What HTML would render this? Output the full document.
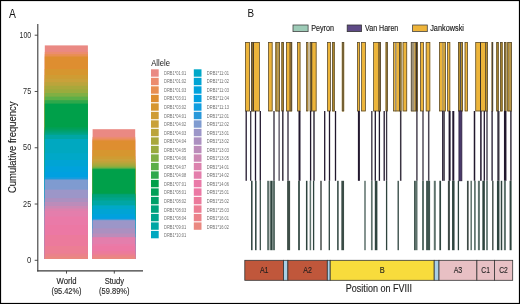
<!DOCTYPE html>
<html><head><meta charset="utf-8"><style>
html,body{margin:0;padding:0;background:#fff;}
svg{display:block;font-family:"Liberation Sans", sans-serif;will-change:transform;}
</style></head><body>
<svg width="520" height="304" viewBox="0 0 520 304">
<rect x="0" y="0" width="520" height="304" fill="#fff"/>
<rect x="44.8" y="45.40" width="43.10" height="213.60" fill="#EA8983"/>
<rect x="44.8" y="51.90" width="43.10" height="207.10" fill="#EC8C6E"/>
<rect x="44.8" y="54.20" width="43.10" height="204.80" fill="#E88F52"/>
<rect x="44.8" y="56.50" width="43.10" height="202.50" fill="#DE8E30"/>
<rect x="44.8" y="69.00" width="43.10" height="190.00" fill="#D6962F"/>
<rect x="44.8" y="75.00" width="43.10" height="184.00" fill="#CF9C33"/>
<rect x="44.8" y="78.60" width="43.10" height="180.40" fill="#C9A13A"/>
<rect x="44.8" y="82.20" width="43.10" height="176.80" fill="#BBA43B"/>
<rect x="44.8" y="85.80" width="43.10" height="173.20" fill="#A9A83B"/>
<rect x="44.8" y="89.40" width="43.10" height="169.60" fill="#9AAB3D"/>
<rect x="44.8" y="93.00" width="43.10" height="166.00" fill="#80AF43"/>
<rect x="44.8" y="96.60" width="43.10" height="162.40" fill="#5CAF48"/>
<rect x="44.8" y="100.20" width="43.10" height="158.80" fill="#2EA84B"/>
<rect x="44.8" y="103.60" width="43.10" height="155.40" fill="#00A04A"/>
<rect x="44.8" y="127.30" width="43.10" height="131.70" fill="#00A058"/>
<rect x="44.8" y="129.50" width="43.10" height="129.50" fill="#00A068"/>
<rect x="44.8" y="131.50" width="43.10" height="127.50" fill="#00A27A"/>
<rect x="44.8" y="133.50" width="43.10" height="125.50" fill="#00A48C"/>
<rect x="44.8" y="135.00" width="43.10" height="124.00" fill="#00A6A4"/>
<rect x="44.8" y="139.00" width="43.10" height="120.00" fill="#00A8C0"/>
<rect x="44.8" y="153.20" width="43.10" height="105.80" fill="#00A8C8"/>
<rect x="44.8" y="160.00" width="43.10" height="99.00" fill="#00A4D4"/>
<rect x="44.8" y="166.40" width="43.10" height="92.60" fill="#00A2DC"/>
<rect x="44.8" y="172.00" width="43.10" height="87.00" fill="#00A0E0"/>
<rect x="44.8" y="177.00" width="43.10" height="82.00" fill="#109EE0"/>
<rect x="44.8" y="178.50" width="43.10" height="80.50" fill="#2898DA"/>
<rect x="44.8" y="179.50" width="43.10" height="79.50" fill="#7F9BD0"/>
<rect x="44.8" y="189.60" width="43.10" height="69.40" fill="#9C96C8"/>
<rect x="44.8" y="198.20" width="43.10" height="60.80" fill="#AC90C0"/>
<rect x="44.8" y="202.00" width="43.10" height="57.00" fill="#BC8CBA"/>
<rect x="44.8" y="206.00" width="43.10" height="53.00" fill="#CC88B4"/>
<rect x="44.8" y="208.50" width="43.10" height="50.50" fill="#DC82AE"/>
<rect x="44.8" y="210.70" width="43.10" height="48.30" fill="#E47EAC"/>
<rect x="44.8" y="216.60" width="43.10" height="42.40" fill="#EA7AA8"/>
<rect x="44.8" y="225.00" width="43.10" height="34.00" fill="#EC78A4"/>
<rect x="44.8" y="235.00" width="43.10" height="24.00" fill="#EC7A9C"/>
<rect x="44.8" y="246.00" width="43.10" height="13.00" fill="#EC7E94"/>
<rect x="44.8" y="253.60" width="43.10" height="5.40" fill="#EB828A"/>
<rect x="44.8" y="256.50" width="43.10" height="2.50" fill="#EA8880"/>
<rect x="92.6" y="129.20" width="42.60" height="129.80" fill="#EA8983"/>
<rect x="92.6" y="136.90" width="42.60" height="122.10" fill="#EC8C6E"/>
<rect x="92.6" y="138.70" width="42.60" height="120.30" fill="#E88F52"/>
<rect x="92.6" y="140.40" width="42.60" height="118.60" fill="#DE8E30"/>
<rect x="92.6" y="150.00" width="42.60" height="109.00" fill="#D6962F"/>
<rect x="92.6" y="156.30" width="42.60" height="102.70" fill="#CF9C33"/>
<rect x="92.6" y="159.00" width="42.60" height="100.00" fill="#C9A13A"/>
<rect x="92.6" y="161.60" width="42.60" height="97.40" fill="#BBA43B"/>
<rect x="92.6" y="163.50" width="42.60" height="95.50" fill="#A9A83B"/>
<rect x="92.6" y="165.40" width="42.60" height="93.60" fill="#9AAB3D"/>
<rect x="92.6" y="166.60" width="42.60" height="92.40" fill="#80AF43"/>
<rect x="92.6" y="167.70" width="42.60" height="91.30" fill="#5CAF48"/>
<rect x="92.6" y="168.50" width="42.60" height="90.50" fill="#2EA84B"/>
<rect x="92.6" y="169.20" width="42.60" height="89.80" fill="#00A04A"/>
<rect x="92.6" y="193.30" width="42.60" height="65.70" fill="#00A058"/>
<rect x="92.6" y="193.90" width="42.60" height="65.10" fill="#00A068"/>
<rect x="92.6" y="194.50" width="42.60" height="64.50" fill="#00A27A"/>
<rect x="92.6" y="197.50" width="42.60" height="61.50" fill="#00A48C"/>
<rect x="92.6" y="200.50" width="42.60" height="58.50" fill="#00A6A4"/>
<rect x="92.6" y="205.20" width="42.60" height="53.80" fill="#00A8C0"/>
<rect x="92.6" y="206.00" width="42.60" height="53.00" fill="#00A8C8"/>
<rect x="92.6" y="209.00" width="42.60" height="50.00" fill="#00A4D4"/>
<rect x="92.6" y="214.00" width="42.60" height="45.00" fill="#00A2DC"/>
<rect x="92.6" y="216.50" width="42.60" height="42.50" fill="#00A0E0"/>
<rect x="92.6" y="218.50" width="42.60" height="40.50" fill="#109EE0"/>
<rect x="92.6" y="219.10" width="42.60" height="39.90" fill="#2898DA"/>
<rect x="92.6" y="219.70" width="42.60" height="39.30" fill="#7F9BD0"/>
<rect x="92.6" y="220.60" width="42.60" height="38.40" fill="#9C96C8"/>
<rect x="92.6" y="228.40" width="42.60" height="30.60" fill="#AC90C0"/>
<rect x="92.6" y="233.50" width="42.60" height="25.50" fill="#BC8CBA"/>
<rect x="92.6" y="237.00" width="42.60" height="22.00" fill="#CC88B4"/>
<rect x="92.6" y="237.30" width="42.60" height="21.70" fill="#DC82AE"/>
<rect x="92.6" y="237.60" width="42.60" height="21.40" fill="#E47EAC"/>
<rect x="92.6" y="244.00" width="42.60" height="15.00" fill="#EA7AA8"/>
<rect x="92.6" y="246.00" width="42.60" height="13.00" fill="#EC78A4"/>
<rect x="92.6" y="251.00" width="42.60" height="8.00" fill="#EC7A9C"/>
<rect x="92.6" y="253.50" width="42.60" height="5.50" fill="#EC7E94"/>
<rect x="92.6" y="254.90" width="42.60" height="4.10" fill="#EB828A"/>
<rect x="92.6" y="256.80" width="42.60" height="2.20" fill="#EA8880"/>
<line x1="37.8" y1="24" x2="37.8" y2="271.4" stroke="#3a3a3a" stroke-width="1.1"/>
<line x1="37.25" y1="270.9" x2="143" y2="270.9" stroke="#3a3a3a" stroke-width="1.1"/>
<line x1="34.7" y1="260.30" x2="37.8" y2="260.30" stroke="#3a3a3a" stroke-width="0.9"/>
<text x="31.2" y="262.80" text-anchor="end" font-size="8.4" fill="#2a2a2a" textLength="4.3" lengthAdjust="spacingAndGlyphs">0</text>
<line x1="34.7" y1="204.03" x2="37.8" y2="204.03" stroke="#3a3a3a" stroke-width="0.9"/>
<text x="31.2" y="206.53" text-anchor="end" font-size="8.4" fill="#2a2a2a" textLength="8.1" lengthAdjust="spacingAndGlyphs">25</text>
<line x1="34.7" y1="147.75" x2="37.8" y2="147.75" stroke="#3a3a3a" stroke-width="0.9"/>
<text x="31.2" y="150.25" text-anchor="end" font-size="8.4" fill="#2a2a2a" textLength="8.1" lengthAdjust="spacingAndGlyphs">50</text>
<line x1="34.7" y1="91.48" x2="37.8" y2="91.48" stroke="#3a3a3a" stroke-width="0.9"/>
<text x="31.2" y="93.98" text-anchor="end" font-size="8.4" fill="#2a2a2a" textLength="8.1" lengthAdjust="spacingAndGlyphs">75</text>
<line x1="34.7" y1="35.20" x2="37.8" y2="35.20" stroke="#3a3a3a" stroke-width="0.9"/>
<text x="31.2" y="37.70" text-anchor="end" font-size="8.4" fill="#2a2a2a" textLength="11.6" lengthAdjust="spacingAndGlyphs">100</text>
<line x1="66.5" y1="270.9" x2="66.5" y2="273.6" stroke="#3a3a3a" stroke-width="0.9"/>
<line x1="114.3" y1="270.9" x2="114.3" y2="273.6" stroke="#3a3a3a" stroke-width="0.9"/>
<text x="66.5" y="284.2" text-anchor="middle" font-size="8.2" fill="#262626" stroke="#262626" stroke-width="0.12" textLength="20" lengthAdjust="spacingAndGlyphs">World</text>
<text x="66.5" y="293.9" text-anchor="middle" font-size="8.3" fill="#262626" stroke="#262626" stroke-width="0.12" textLength="30" lengthAdjust="spacingAndGlyphs">(95.42%)</text>
<text x="114.4" y="284.2" text-anchor="middle" font-size="8.2" fill="#262626" stroke="#262626" stroke-width="0.12" textLength="19.5" lengthAdjust="spacingAndGlyphs">Study</text>
<text x="114.3" y="293.9" text-anchor="middle" font-size="8.3" fill="#262626" stroke="#262626" stroke-width="0.12" textLength="30.4" lengthAdjust="spacingAndGlyphs">(59.89%)</text>
<text transform="translate(16.1,147.3) rotate(-90)" text-anchor="middle" font-size="10" fill="#1a1a1a" stroke="#1a1a1a" stroke-width="0.1" textLength="91.4" lengthAdjust="spacingAndGlyphs">Cumulative frequency</text>
<text x="9" y="17.5" font-size="12" fill="#111" textLength="6.9" lengthAdjust="spacingAndGlyphs">A</text>
<text x="151.2" y="65.7" font-size="9.2" fill="#111" textLength="18.7" lengthAdjust="spacingAndGlyphs">Allele</text>
<rect x="151.0" y="69.30" width="7.7" height="7.4" fill="#EA8983"/>
<text x="164.0" y="74.80" font-size="5" fill="#707070" textLength="22.2" lengthAdjust="spacingAndGlyphs">DRB1*01:01</text>
<rect x="151.0" y="77.80" width="7.7" height="7.4" fill="#EC8C6E"/>
<text x="164.0" y="83.34" font-size="5" fill="#707070" textLength="22.2" lengthAdjust="spacingAndGlyphs">DRB1*01:02</text>
<rect x="151.0" y="86.31" width="7.7" height="7.4" fill="#E88F52"/>
<text x="164.0" y="91.89" font-size="5" fill="#707070" textLength="22.2" lengthAdjust="spacingAndGlyphs">DRB1*01:03</text>
<rect x="151.0" y="94.81" width="7.7" height="7.4" fill="#DE8E30"/>
<text x="164.0" y="100.44" font-size="5" fill="#707070" textLength="22.2" lengthAdjust="spacingAndGlyphs">DRB1*03:01</text>
<rect x="151.0" y="103.32" width="7.7" height="7.4" fill="#D6962F"/>
<text x="164.0" y="108.98" font-size="5" fill="#707070" textLength="22.2" lengthAdjust="spacingAndGlyphs">DRB1*03:02</text>
<rect x="151.0" y="111.83" width="7.7" height="7.4" fill="#CF9C33"/>
<text x="164.0" y="117.53" font-size="5" fill="#707070" textLength="22.2" lengthAdjust="spacingAndGlyphs">DRB1*04:01</text>
<rect x="151.0" y="120.33" width="7.7" height="7.4" fill="#C9A13A"/>
<text x="164.0" y="126.07" font-size="5" fill="#707070" textLength="22.2" lengthAdjust="spacingAndGlyphs">DRB1*04:02</text>
<rect x="151.0" y="128.84" width="7.7" height="7.4" fill="#BBA43B"/>
<text x="164.0" y="134.62" font-size="5" fill="#707070" textLength="22.2" lengthAdjust="spacingAndGlyphs">DRB1*04:03</text>
<rect x="151.0" y="137.34" width="7.7" height="7.4" fill="#A9A83B"/>
<text x="164.0" y="143.16" font-size="5" fill="#707070" textLength="22.2" lengthAdjust="spacingAndGlyphs">DRB1*04:04</text>
<rect x="151.0" y="145.84" width="7.7" height="7.4" fill="#9AAB3D"/>
<text x="164.0" y="151.71" font-size="5" fill="#707070" textLength="22.2" lengthAdjust="spacingAndGlyphs">DRB1*04:05</text>
<rect x="151.0" y="154.35" width="7.7" height="7.4" fill="#80AF43"/>
<text x="164.0" y="160.25" font-size="5" fill="#707070" textLength="22.2" lengthAdjust="spacingAndGlyphs">DRB1*04:06</text>
<rect x="151.0" y="162.86" width="7.7" height="7.4" fill="#5CAF48"/>
<text x="164.0" y="168.80" font-size="5" fill="#707070" textLength="22.2" lengthAdjust="spacingAndGlyphs">DRB1*04:07</text>
<rect x="151.0" y="171.36" width="7.7" height="7.4" fill="#2EA84B"/>
<text x="164.0" y="177.34" font-size="5" fill="#707070" textLength="22.2" lengthAdjust="spacingAndGlyphs">DRB1*04:08</text>
<rect x="151.0" y="179.87" width="7.7" height="7.4" fill="#00A04A"/>
<text x="164.0" y="185.89" font-size="5" fill="#707070" textLength="22.2" lengthAdjust="spacingAndGlyphs">DRB1*07:01</text>
<rect x="151.0" y="188.37" width="7.7" height="7.4" fill="#00A058"/>
<text x="164.0" y="194.43" font-size="5" fill="#707070" textLength="22.2" lengthAdjust="spacingAndGlyphs">DRB1*08:01</text>
<rect x="151.0" y="196.88" width="7.7" height="7.4" fill="#00A068"/>
<text x="164.0" y="202.97" font-size="5" fill="#707070" textLength="22.2" lengthAdjust="spacingAndGlyphs">DRB1*08:02</text>
<rect x="151.0" y="205.38" width="7.7" height="7.4" fill="#00A27A"/>
<text x="164.0" y="211.52" font-size="5" fill="#707070" textLength="22.2" lengthAdjust="spacingAndGlyphs">DRB1*08:03</text>
<rect x="151.0" y="213.88" width="7.7" height="7.4" fill="#00A48C"/>
<text x="164.0" y="220.06" font-size="5" fill="#707070" textLength="22.2" lengthAdjust="spacingAndGlyphs">DRB1*08:04</text>
<rect x="151.0" y="222.39" width="7.7" height="7.4" fill="#00A6A4"/>
<text x="164.0" y="228.61" font-size="5" fill="#707070" textLength="22.2" lengthAdjust="spacingAndGlyphs">DRB1*09:01</text>
<rect x="151.0" y="230.90" width="7.7" height="7.4" fill="#00A8C0"/>
<text x="164.0" y="237.16" font-size="5" fill="#707070" textLength="22.2" lengthAdjust="spacingAndGlyphs">DRB1*10:01</text>
<rect x="193.8" y="69.30" width="7.7" height="7.4" fill="#00A8C8"/>
<text x="206.8" y="74.80" font-size="5" fill="#707070" textLength="22.2" lengthAdjust="spacingAndGlyphs">DRB1*11:01</text>
<rect x="193.8" y="77.80" width="7.7" height="7.4" fill="#00A4D4"/>
<text x="206.8" y="83.34" font-size="5" fill="#707070" textLength="22.2" lengthAdjust="spacingAndGlyphs">DRB1*11:02</text>
<rect x="193.8" y="86.31" width="7.7" height="7.4" fill="#00A2DC"/>
<text x="206.8" y="91.89" font-size="5" fill="#707070" textLength="22.2" lengthAdjust="spacingAndGlyphs">DRB1*11:03</text>
<rect x="193.8" y="94.81" width="7.7" height="7.4" fill="#00A0E0"/>
<text x="206.8" y="100.44" font-size="5" fill="#707070" textLength="22.2" lengthAdjust="spacingAndGlyphs">DRB1*11:04</text>
<rect x="193.8" y="103.32" width="7.7" height="7.4" fill="#109EE0"/>
<text x="206.8" y="108.98" font-size="5" fill="#707070" textLength="22.2" lengthAdjust="spacingAndGlyphs">DRB1*11:13</text>
<rect x="193.8" y="111.83" width="7.7" height="7.4" fill="#2898DA"/>
<text x="206.8" y="117.53" font-size="5" fill="#707070" textLength="22.2" lengthAdjust="spacingAndGlyphs">DRB1*12:01</text>
<rect x="193.8" y="120.33" width="7.7" height="7.4" fill="#7F9BD0"/>
<text x="206.8" y="126.07" font-size="5" fill="#707070" textLength="22.2" lengthAdjust="spacingAndGlyphs">DRB1*12:02</text>
<rect x="193.8" y="128.84" width="7.7" height="7.4" fill="#9C96C8"/>
<text x="206.8" y="134.62" font-size="5" fill="#707070" textLength="22.2" lengthAdjust="spacingAndGlyphs">DRB1*13:01</text>
<rect x="193.8" y="137.34" width="7.7" height="7.4" fill="#AC90C0"/>
<text x="206.8" y="143.16" font-size="5" fill="#707070" textLength="22.2" lengthAdjust="spacingAndGlyphs">DRB1*13:02</text>
<rect x="193.8" y="145.84" width="7.7" height="7.4" fill="#BC8CBA"/>
<text x="206.8" y="151.71" font-size="5" fill="#707070" textLength="22.2" lengthAdjust="spacingAndGlyphs">DRB1*13:03</text>
<rect x="193.8" y="154.35" width="7.7" height="7.4" fill="#CC88B4"/>
<text x="206.8" y="160.25" font-size="5" fill="#707070" textLength="22.2" lengthAdjust="spacingAndGlyphs">DRB1*13:05</text>
<rect x="193.8" y="162.86" width="7.7" height="7.4" fill="#DC82AE"/>
<text x="206.8" y="168.80" font-size="5" fill="#707070" textLength="22.2" lengthAdjust="spacingAndGlyphs">DRB1*14:01</text>
<rect x="193.8" y="171.36" width="7.7" height="7.4" fill="#E47EAC"/>
<text x="206.8" y="177.34" font-size="5" fill="#707070" textLength="22.2" lengthAdjust="spacingAndGlyphs">DRB1*14:02</text>
<rect x="193.8" y="179.87" width="7.7" height="7.4" fill="#EA7AA8"/>
<text x="206.8" y="185.89" font-size="5" fill="#707070" textLength="22.2" lengthAdjust="spacingAndGlyphs">DRB1*14:06</text>
<rect x="193.8" y="188.37" width="7.7" height="7.4" fill="#EC78A4"/>
<text x="206.8" y="194.43" font-size="5" fill="#707070" textLength="22.2" lengthAdjust="spacingAndGlyphs">DRB1*15:01</text>
<rect x="193.8" y="196.88" width="7.7" height="7.4" fill="#EC7A9C"/>
<text x="206.8" y="202.97" font-size="5" fill="#707070" textLength="22.2" lengthAdjust="spacingAndGlyphs">DRB1*15:02</text>
<rect x="193.8" y="205.38" width="7.7" height="7.4" fill="#EC7E94"/>
<text x="206.8" y="211.52" font-size="5" fill="#707070" textLength="22.2" lengthAdjust="spacingAndGlyphs">DRB1*15:03</text>
<rect x="193.8" y="213.88" width="7.7" height="7.4" fill="#EB828A"/>
<text x="206.8" y="220.06" font-size="5" fill="#707070" textLength="22.2" lengthAdjust="spacingAndGlyphs">DRB1*16:01</text>
<rect x="193.8" y="222.39" width="7.7" height="7.4" fill="#EA8880"/>
<text x="206.8" y="228.61" font-size="5" fill="#707070" textLength="22.2" lengthAdjust="spacingAndGlyphs">DRB1*16:02</text>
<text x="247.6" y="17.4" font-size="11" fill="#111" textLength="6.6" lengthAdjust="spacingAndGlyphs">B</text>
<rect x="293" y="25" width="15.1" height="6.6" fill="#9DCBB7" stroke="#444" stroke-width="0.8"/>
<text x="311.2" y="30.7" font-size="8.5" fill="#1a1a1a" stroke="#1a1a1a" stroke-width="0.15" textLength="22.8" lengthAdjust="spacingAndGlyphs">Peyron</text>
<rect x="347.2" y="25" width="14.3" height="6.6" fill="#5E4A86" stroke="#333" stroke-width="0.8"/>
<text x="365.1" y="30.7" font-size="8.5" fill="#1a1a1a" stroke="#1a1a1a" stroke-width="0.15" textLength="33.2" lengthAdjust="spacingAndGlyphs">Van Haren</text>
<rect x="412.6" y="25" width="14.7" height="6.6" fill="#EEB43A" stroke="#444" stroke-width="0.8"/>
<text x="430.2" y="30.7" font-size="8.5" fill="#1a1a1a" stroke="#1a1a1a" stroke-width="0.15" textLength="33.8" lengthAdjust="spacingAndGlyphs">Jankowski</text>
<rect x="245.1" y="42.0" width="4.80" height="69.30" fill="#EDB53B"/>
<rect x="245.45" y="42.35" width="4.10" height="68.60" fill="none" stroke="#4a4438" stroke-width="0.7"/>
<rect x="251.0" y="42.0" width="8.70" height="69.30" fill="#EDB53B"/>
<rect x="251.0" y="42.0" width="2.00" height="69.30" fill="#8C6C2E"/>
<rect x="253.0" y="42.0" width="0.90" height="69.30" fill="#3A3228"/>
<rect x="251.35" y="42.35" width="8.00" height="68.60" fill="none" stroke="#4a4438" stroke-width="0.7"/>
<rect x="268.2" y="42.0" width="4.30" height="69.30" fill="#EDB53B"/>
<rect x="268.55" y="42.35" width="3.60" height="68.60" fill="none" stroke="#4a4438" stroke-width="0.7"/>
<rect x="275.5" y="42.0" width="4.30" height="69.30" fill="#EDB53B"/>
<rect x="275.5" y="42.0" width="1.80" height="69.30" fill="#B8902F"/>
<rect x="277.3" y="42.0" width="1.20" height="69.30" fill="#A09478"/>
<rect x="278.5" y="42.0" width="1.30" height="69.30" fill="#B8902F"/>
<rect x="275.85" y="42.35" width="3.60" height="68.60" fill="none" stroke="#4a4438" stroke-width="0.7"/>
<rect x="281.5" y="42.0" width="2.30" height="69.30" fill="#EDB53B"/>
<rect x="281.5" y="42.0" width="2.30" height="69.30" fill="#B8902F"/>
<rect x="281.85" y="42.35" width="1.60" height="68.60" fill="none" stroke="#4a4438" stroke-width="0.7"/>
<rect x="286.0" y="42.0" width="6.10" height="69.30" fill="#EDB53B"/>
<rect x="289.3" y="42.0" width="2.80" height="69.30" fill="#8C6C2E"/>
<rect x="286.35" y="42.35" width="5.40" height="68.60" fill="none" stroke="#4a4438" stroke-width="0.7"/>
<rect x="297.1" y="42.0" width="3.30" height="69.30" fill="#EDB53B"/>
<rect x="297.45" y="42.35" width="2.60" height="68.60" fill="none" stroke="#4a4438" stroke-width="0.7"/>
<rect x="306.2" y="42.0" width="2.10" height="69.30" fill="#EDB53B"/>
<rect x="306.55" y="42.35" width="1.40" height="68.60" fill="none" stroke="#4a4438" stroke-width="0.7"/>
<rect x="309.8" y="42.0" width="6.70" height="69.30" fill="#EDB53B"/>
<rect x="309.8" y="42.0" width="1.40" height="69.30" fill="#B8902F"/>
<rect x="311.2" y="42.0" width="1.00" height="69.30" fill="#3A3228"/>
<rect x="310.15" y="42.35" width="6.00" height="68.60" fill="none" stroke="#4a4438" stroke-width="0.7"/>
<rect x="327.2" y="42.0" width="3.60" height="69.30" fill="#EDB53B"/>
<rect x="327.55" y="42.35" width="2.90" height="68.60" fill="none" stroke="#4a4438" stroke-width="0.7"/>
<rect x="332.3" y="42.0" width="2.30" height="69.30" fill="#EDB53B"/>
<rect x="332.3" y="42.0" width="2.30" height="69.30" fill="#B8902F"/>
<rect x="332.65" y="42.35" width="1.60" height="68.60" fill="none" stroke="#4a4438" stroke-width="0.7"/>
<rect x="341.9" y="42.0" width="2.20" height="69.30" fill="#EDB53B"/>
<rect x="341.9" y="42.0" width="2.20" height="69.30" fill="#B8902F"/>
<rect x="342.25" y="42.35" width="1.50" height="68.60" fill="none" stroke="#4a4438" stroke-width="0.7"/>
<rect x="357.0" y="42.0" width="2.80" height="69.30" fill="#EDB53B"/>
<rect x="357.35" y="42.35" width="2.10" height="68.60" fill="none" stroke="#4a4438" stroke-width="0.7"/>
<rect x="361.3" y="42.0" width="4.50" height="69.30" fill="#EDB53B"/>
<rect x="361.65" y="42.35" width="3.80" height="68.60" fill="none" stroke="#4a4438" stroke-width="0.7"/>
<rect x="373.3" y="42.0" width="7.50" height="69.30" fill="#EDB53B"/>
<rect x="378.0" y="42.0" width="2.80" height="69.30" fill="#8C6C2E"/>
<rect x="373.65" y="42.35" width="6.80" height="68.60" fill="none" stroke="#4a4438" stroke-width="0.7"/>
<rect x="385.7" y="42.0" width="2.00" height="69.30" fill="#EDB53B"/>
<rect x="385.7" y="42.0" width="2.00" height="69.30" fill="#B8902F"/>
<rect x="386.05" y="42.35" width="1.30" height="68.60" fill="none" stroke="#4a4438" stroke-width="0.7"/>
<rect x="393.1" y="42.0" width="8.30" height="69.30" fill="#EDB53B"/>
<rect x="395.0" y="42.0" width="1.50" height="69.30" fill="#A09478"/>
<rect x="399.2" y="42.0" width="1.20" height="69.30" fill="#3A3228"/>
<rect x="400.4" y="42.0" width="1.00" height="69.30" fill="#B8902F"/>
<rect x="393.45" y="42.35" width="7.60" height="68.60" fill="none" stroke="#4a4438" stroke-width="0.7"/>
<rect x="402.7" y="42.0" width="4.40" height="69.30" fill="#EDB53B"/>
<rect x="403.05" y="42.35" width="3.70" height="68.60" fill="none" stroke="#4a4438" stroke-width="0.7"/>
<rect x="410.9" y="42.0" width="6.90" height="69.30" fill="#EDB53B"/>
<rect x="410.9" y="42.0" width="3.60" height="69.30" fill="#A09478"/>
<rect x="415.5" y="42.0" width="1.50" height="69.30" fill="#3A3228"/>
<rect x="417.0" y="42.0" width="0.80" height="69.30" fill="#B8902F"/>
<rect x="411.25" y="42.35" width="6.20" height="68.60" fill="none" stroke="#4a4438" stroke-width="0.7"/>
<rect x="420.2" y="42.0" width="3.60" height="69.30" fill="#EDB53B"/>
<rect x="420.55" y="42.35" width="2.90" height="68.60" fill="none" stroke="#4a4438" stroke-width="0.7"/>
<rect x="425.8" y="42.0" width="4.40" height="69.30" fill="#EDB53B"/>
<rect x="426.15" y="42.35" width="3.70" height="68.60" fill="none" stroke="#4a4438" stroke-width="0.7"/>
<rect x="439.0" y="42.0" width="6.80" height="69.30" fill="#EDB53B"/>
<rect x="442.5" y="42.0" width="1.00" height="69.30" fill="#8A8478"/>
<rect x="443.5" y="42.0" width="2.30" height="69.30" fill="#D4A436"/>
<rect x="439.35" y="42.35" width="6.10" height="68.60" fill="none" stroke="#4a4438" stroke-width="0.7"/>
<rect x="447.2" y="42.0" width="3.00" height="69.30" fill="#EDB53B"/>
<rect x="447.55" y="42.35" width="2.30" height="68.60" fill="none" stroke="#4a4438" stroke-width="0.7"/>
<rect x="458.2" y="42.0" width="4.70" height="69.30" fill="#EDB53B"/>
<rect x="458.2" y="42.0" width="1.80" height="69.30" fill="#B8902F"/>
<rect x="460.0" y="42.0" width="1.00" height="69.30" fill="#555"/>
<rect x="461.0" y="42.0" width="1.90" height="69.30" fill="#B8902F"/>
<rect x="458.55" y="42.35" width="4.00" height="68.60" fill="none" stroke="#4a4438" stroke-width="0.7"/>
<rect x="464.7" y="42.0" width="3.20" height="69.30" fill="#EDB53B"/>
<rect x="465.05" y="42.35" width="2.50" height="68.60" fill="none" stroke="#4a4438" stroke-width="0.7"/>
<rect x="475.4" y="42.0" width="12.30" height="69.30" fill="#EDB53B"/>
<rect x="480.0" y="42.0" width="1.00" height="69.30" fill="#3A3228"/>
<rect x="485.3" y="42.0" width="1.00" height="69.30" fill="#3A3228"/>
<rect x="486.3" y="42.0" width="1.40" height="69.30" fill="#B8902F"/>
<rect x="475.75" y="42.35" width="11.60" height="68.60" fill="none" stroke="#4a4438" stroke-width="0.7"/>
<rect x="491.7" y="42.0" width="1.40" height="69.30" fill="#EDB53B"/>
<rect x="491.7" y="42.0" width="1.40" height="69.30" fill="#8C6C2E"/>
<rect x="492.05" y="42.35" width="0.70" height="68.60" fill="none" stroke="#4a4438" stroke-width="0.7"/>
<rect x="496.4" y="42.0" width="2.20" height="69.30" fill="#EDB53B"/>
<rect x="496.4" y="42.0" width="2.20" height="69.30" fill="#B8902F"/>
<rect x="496.75" y="42.35" width="1.50" height="68.60" fill="none" stroke="#4a4438" stroke-width="0.7"/>
<rect x="500.2" y="42.0" width="2.30" height="69.30" fill="#EDB53B"/>
<rect x="500.2" y="42.0" width="2.30" height="69.30" fill="#B8902F"/>
<rect x="500.55" y="42.35" width="1.60" height="68.60" fill="none" stroke="#4a4438" stroke-width="0.7"/>
<rect x="504.0" y="42.0" width="2.30" height="69.30" fill="#EDB53B"/>
<rect x="504.0" y="42.0" width="2.30" height="69.30" fill="#B8902F"/>
<rect x="504.35" y="42.35" width="1.60" height="68.60" fill="none" stroke="#4a4438" stroke-width="0.7"/>
<rect x="507.4" y="42.0" width="4.40" height="69.30" fill="#EDB53B"/>
<rect x="507.4" y="42.0" width="2.10" height="69.30" fill="#B8902F"/>
<rect x="509.5" y="42.0" width="1.00" height="69.30" fill="#8A8A88"/>
<rect x="510.5" y="42.0" width="1.30" height="69.30" fill="#B8902F"/>
<rect x="507.75" y="42.35" width="3.70" height="68.60" fill="none" stroke="#4a4438" stroke-width="0.7"/>
<rect x="245.55" y="111" width="1.3" height="69.8" fill="#22182E"/>
<rect x="250.05" y="111" width="1.3" height="69.8" fill="#3A3442"/>
<rect x="254.85" y="111" width="1.3" height="69.8" fill="#22182E"/>
<rect x="259.65" y="111" width="1.3" height="69.8" fill="#22182E"/>
<rect x="273.25" y="111" width="1.5" height="69.8" fill="#4C4654"/>
<rect x="278.60" y="111" width="1.0" height="69.8" fill="#22182E"/>
<rect x="282.05" y="111" width="1.5" height="69.8" fill="#3A3442"/>
<rect x="287.25" y="111" width="1.5" height="69.8" fill="#4C4654"/>
<rect x="298.50" y="111" width="2.0" height="69.8" fill="#22182E"/>
<rect x="309.95" y="111" width="1.3" height="69.8" fill="#22182E"/>
<rect x="313.25" y="111" width="1.5" height="69.8" fill="#3A3442"/>
<rect x="324.05" y="111" width="1.3" height="69.8" fill="#22182E"/>
<rect x="328.85" y="111" width="1.3" height="69.8" fill="#22182E"/>
<rect x="334.85" y="111" width="1.3" height="69.8" fill="#22182E"/>
<rect x="357.90" y="111" width="2.0" height="69.8" fill="#22182E"/>
<rect x="371.05" y="111" width="1.5" height="69.8" fill="#4C4654"/>
<rect x="374.65" y="111" width="1.3" height="69.8" fill="#22182E"/>
<rect x="378.75" y="111" width="1.3" height="69.8" fill="#22182E"/>
<rect x="383.55" y="111" width="1.3" height="69.8" fill="#22182E"/>
<rect x="385.95" y="111" width="1.3" height="69.8" fill="#3A3442"/>
<rect x="399.95" y="111" width="1.5" height="69.8" fill="#3A3442"/>
<rect x="416.15" y="111" width="1.5" height="69.8" fill="#4C4654"/>
<rect x="422.35" y="111" width="1.3" height="69.8" fill="#3A3442"/>
<rect x="427.95" y="111" width="1.5" height="69.8" fill="#4C4654"/>
<rect x="442.10" y="111" width="1.0" height="69.8" fill="#22182E"/>
<rect x="443.10" y="111" width="1.8" height="69.8" fill="#4C4654"/>
<rect x="448.60" y="111" width="2.0" height="69.8" fill="#22182E"/>
<rect x="452.30" y="111" width="2.0" height="69.8" fill="#22182E"/>
<rect x="473.75" y="111" width="1.5" height="69.8" fill="#22182E"/>
<rect x="480.15" y="111" width="1.5" height="69.8" fill="#22182E"/>
<rect x="483.65" y="111" width="1.3" height="69.8" fill="#22182E"/>
<rect x="486.35" y="111" width="1.3" height="69.8" fill="#3A3442"/>
<rect x="491.45" y="111" width="1.3" height="69.8" fill="#22182E"/>
<rect x="497.30" y="111" width="2.2" height="69.8" fill="#3A3442"/>
<rect x="503.95" y="111" width="2.5" height="69.8" fill="#22182E"/>
<rect x="510.15" y="111" width="1.5" height="69.8" fill="#3A3442"/>
<rect x="458.9" y="111" width="3.0" height="69.8" fill="#4A3A6A" stroke="#2A1E3A" stroke-width="0.7"/>
<rect x="251.05" y="180.8" width="1.5" height="69.4" fill="#2E443E"/>
<rect x="255.05" y="180.8" width="1.5" height="69.4" fill="#2E443E"/>
<rect x="259.70" y="180.8" width="1.2" height="69.4" fill="#2E443E"/>
<rect x="267.15" y="180.8" width="2.3" height="69.4" fill="#5E726C"/>
<rect x="270.25" y="180.8" width="1.9" height="69.4" fill="#2E443E"/>
<rect x="272.20" y="180.8" width="2.8" height="69.4" fill="#5E726C"/>
<rect x="287.10" y="180.8" width="3.0" height="69.4" fill="#3E4E48"/>
<rect x="298.15" y="180.8" width="1.7" height="69.4" fill="#2E443E"/>
<rect x="305.95" y="180.8" width="1.5" height="69.4" fill="#2E443E"/>
<rect x="309.65" y="180.8" width="1.5" height="69.4" fill="#5E726C"/>
<rect x="312.95" y="180.8" width="1.3" height="69.4" fill="#2E443E"/>
<rect x="320.15" y="180.8" width="1.7" height="69.4" fill="#5E6462"/>
<rect x="328.65" y="180.8" width="1.3" height="69.4" fill="#2E443E"/>
<rect x="337.15" y="180.8" width="1.5" height="69.4" fill="#2E443E"/>
<rect x="341.35" y="180.8" width="2.7" height="69.4" fill="#3A4C46"/>
<rect x="364.25" y="180.8" width="1.5" height="69.4" fill="#5E726C"/>
<rect x="370.95" y="180.8" width="1.7" height="69.4" fill="#5E726C"/>
<rect x="374.80" y="180.8" width="2.6" height="69.4" fill="#2E443E"/>
<rect x="385.95" y="180.8" width="1.3" height="69.4" fill="#2E443E"/>
<rect x="397.55" y="180.8" width="1.3" height="69.4" fill="#2E443E"/>
<rect x="414.10" y="180.8" width="1.0" height="69.4" fill="#2E443E"/>
<rect x="414.90" y="180.8" width="2.6" height="69.4" fill="#5E726C"/>
<rect x="422.00" y="180.8" width="2.0" height="69.4" fill="#5E726C"/>
<rect x="426.10" y="180.8" width="4.0" height="69.4" fill="#405650"/>
<rect x="433.80" y="180.8" width="2.0" height="69.4" fill="#5E726C"/>
<rect x="439.35" y="180.8" width="1.7" height="69.4" fill="#2E443E"/>
<rect x="447.90" y="180.8" width="2.0" height="69.4" fill="#3E4A46"/>
<rect x="452.05" y="180.8" width="2.5" height="69.4" fill="#2E443E"/>
<rect x="457.75" y="180.8" width="1.3" height="69.4" fill="#2E443E"/>
<rect x="466.95" y="180.8" width="1.7" height="69.4" fill="#3E4A46"/>
<rect x="470.45" y="180.8" width="1.5" height="69.4" fill="#5E726C"/>
<rect x="474.05" y="180.8" width="1.7" height="69.4" fill="#5E726C"/>
<rect x="477.90" y="180.8" width="2.0" height="69.4" fill="#5E726C"/>
<rect x="482.35" y="180.8" width="2.5" height="69.4" fill="#2E443E"/>
<rect x="486.15" y="180.8" width="1.7" height="69.4" fill="#5E726C"/>
<rect x="492.05" y="180.8" width="1.5" height="69.4" fill="#4A5450"/>
<rect x="496.95" y="180.8" width="2.5" height="69.4" fill="#2E443E"/>
<rect x="500.75" y="180.8" width="1.5" height="69.4" fill="#2E443E"/>
<rect x="503.90" y="180.8" width="2.0" height="69.4" fill="#5E726C"/>
<rect x="509.60" y="180.8" width="2.0" height="69.4" fill="#2E443E"/>
<rect x="244.8" y="260.3" width="38.80" height="20" fill="#C0573B" stroke="#333" stroke-width="0.8"/>
<rect x="283.6" y="260.3" width="4.30" height="20" fill="#A9D0E6" stroke="#333" stroke-width="0.8"/>
<rect x="287.9" y="260.3" width="39.40" height="20" fill="#C0573B" stroke="#333" stroke-width="0.8"/>
<rect x="327.3" y="260.3" width="2.90" height="20" fill="#A9D0E6" stroke="#333" stroke-width="0.8"/>
<rect x="330.2" y="260.3" width="104.00" height="20" fill="#F8DC3C" stroke="#333" stroke-width="0.8"/>
<rect x="434.2" y="260.3" width="4.80" height="20" fill="#A9D0E6" stroke="#333" stroke-width="0.8"/>
<rect x="439.0" y="260.3" width="37.90" height="20" fill="#E8C0C4" stroke="#333" stroke-width="0.8"/>
<rect x="476.9" y="260.3" width="17.50" height="20" fill="#E8C0C4" stroke="#333" stroke-width="0.8"/>
<rect x="494.4" y="260.3" width="18.30" height="20" fill="#E8C0C4" stroke="#333" stroke-width="0.8"/>
<text x="264.20" y="272.9" text-anchor="middle" font-size="9.3" fill="#1e1e1e" stroke="#1e1e1e" stroke-width="0.12" textLength="8.6" lengthAdjust="spacingAndGlyphs">A1</text>
<text x="307.60" y="272.9" text-anchor="middle" font-size="9.3" fill="#1e1e1e" stroke="#1e1e1e" stroke-width="0.12" textLength="8.6" lengthAdjust="spacingAndGlyphs">A2</text>
<text x="382.20" y="272.9" text-anchor="middle" font-size="9.3" fill="#1e1e1e" stroke="#1e1e1e" stroke-width="0.12" textLength="5.0" lengthAdjust="spacingAndGlyphs">B</text>
<text x="457.95" y="272.9" text-anchor="middle" font-size="9.3" fill="#1e1e1e" stroke="#1e1e1e" stroke-width="0.12" textLength="8.6" lengthAdjust="spacingAndGlyphs">A3</text>
<text x="485.65" y="272.9" text-anchor="middle" font-size="9.3" fill="#1e1e1e" stroke="#1e1e1e" stroke-width="0.12" textLength="8.6" lengthAdjust="spacingAndGlyphs">C1</text>
<text x="503.55" y="272.9" text-anchor="middle" font-size="9.3" fill="#1e1e1e" stroke="#1e1e1e" stroke-width="0.12" textLength="8.6" lengthAdjust="spacingAndGlyphs">C2</text>
<text x="345.8" y="292.2" font-size="10.2" fill="#1e1e1e" stroke="#1e1e1e" stroke-width="0.12" textLength="66.3" lengthAdjust="spacingAndGlyphs">Position on FVIII</text>
<rect x="0.5" y="0.5" width="519" height="303" fill="none" stroke="#000" stroke-width="1.2"/>
</svg>
</body></html>
